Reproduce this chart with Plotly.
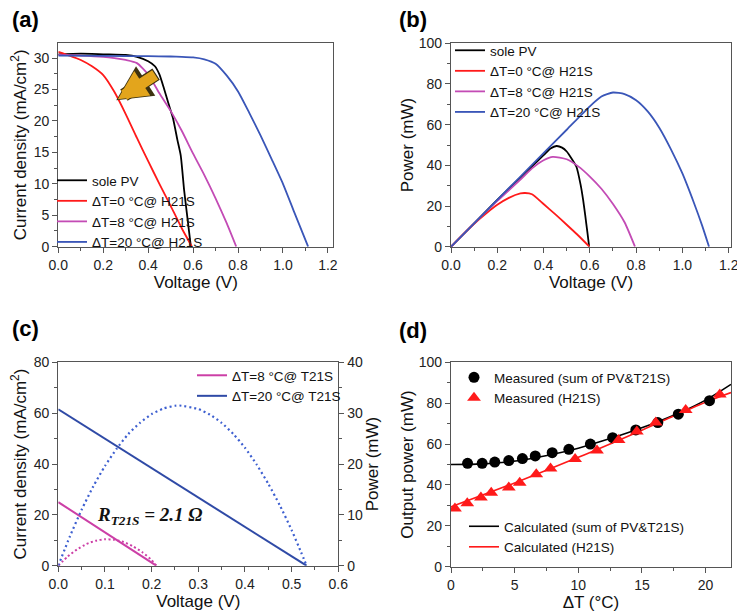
import plotly.graph_objects as go

FONT = "Liberation Sans, Arial, sans-serif"

# ---------------- Panel (a): J-V curves ----------------
a_pv_v = [0, 0.1, 0.2, 0.3, 0.35, 0.4, 0.43, 0.45, 0.47, 0.49, 0.51, 0.53, 0.545, 0.56, 0.575, 0.59]
a_pv_j = [30.6, 30.7, 30.6, 30.5, 30.2, 29.5, 28.7, 27.4, 25.2, 22.8, 20.5, 17.0, 14.5, 9.0, 4.5, 0]
a_d0_v = [0, 0.05, 0.1, 0.15, 0.2, 0.25, 0.3, 0.35, 0.4, 0.45, 0.5, 0.55, 0.595]
a_d0_j = [31.0, 30.4, 29.7, 28.7, 27.3, 24.6, 21.1, 17.3, 13.6, 10.0, 6.5, 2.9, 0]
a_d8_v = [0, 0.1, 0.2, 0.25, 0.3, 0.35, 0.4, 0.45, 0.5, 0.55, 0.6, 0.65, 0.7, 0.75, 0.792]
a_d8_j = [30.5, 30.4, 30.2, 30.0, 29.7, 29.2, 27.4, 24.4, 21.6, 18.4, 14.8, 11.4, 7.7, 3.7, 0]
a_d20_v = [0, 0.2, 0.4, 0.5, 0.55, 0.6, 0.65, 0.7, 0.75, 0.8, 0.85, 0.9, 0.95, 1.0, 1.05, 1.112]
a_d20_j = [30.4, 30.35, 30.3, 30.25, 30.2, 30.1, 29.8, 29.1, 27.2, 24.7, 21.3, 17.7, 13.9, 10.0, 5.5, 0]

# ---------------- Panel (b): P-V curves ----------------
b_pv_v = [0, 0.1, 0.2, 0.3, 0.35, 0.4, 0.43, 0.456, 0.48, 0.5, 0.52, 0.542, 0.56, 0.571, 0.58, 0.59, 0.597]
b_pv_p = [0, 11.5, 23.0, 34.0, 39.5, 45.0, 48.3, 49.5, 48.7, 46.8, 43.5, 39.3, 30.5, 23.0, 15.5, 6.5, 0]
b_d0_v = [0, 0.05, 0.1, 0.15, 0.2, 0.25, 0.3, 0.32, 0.35, 0.4, 0.45, 0.5, 0.55, 0.598]
b_d0_p = [0, 5.8, 11.3, 16.2, 20.6, 24.0, 26.2, 26.4, 25.8, 21.0, 16.0, 10.8, 5.5, 0]
b_d8_v = [0, 0.1, 0.2, 0.3, 0.35, 0.4, 0.44, 0.5, 0.55, 0.6, 0.65, 0.7, 0.75, 0.795]
b_d8_p = [0, 11.5, 22.5, 33.0, 38.5, 42.5, 44.2, 43.0, 39.5, 34.5, 28.5, 21.0, 12.0, 0]
b_d20_v = [0, 0.1, 0.2, 0.3, 0.4, 0.5, 0.6, 0.65, 0.7, 0.75, 0.8, 0.85, 0.9, 0.95, 1.0, 1.05, 1.085, 1.115]
b_d20_p = [0, 11.5, 23.0, 34.5, 46.0, 57.5, 69.0, 73.8, 75.8, 75.0, 72.0, 66.5, 58.5, 48.0, 36.0, 21.5, 10.5, 0]

# ---------------- Panel (c): T21S ----------------
c_d8_v = [0, 0.21]
c_d8_j = [25, 0]
c_d20_v = [0, 0.532]
c_d20_j = [61.5, 0]
c_d8_pv = [0, 0.02, 0.04, 0.06, 0.08, 0.1, 0.12, 0.14, 0.16, 0.18, 0.2, 0.21]
c_d8_pp = [0, 1.8, 3.2, 4.25, 4.9, 5.2, 5.1, 4.65, 3.8, 2.65, 1.1, 0]
c_d20_pv = [0, 0.025, 0.05, 0.075, 0.1, 0.125, 0.15, 0.175, 0.2, 0.225, 0.25, 0.26,
            0.3, 0.325, 0.35, 0.375, 0.4, 0.425, 0.45, 0.475, 0.5, 0.52, 0.532]
c_d20_pp = [0, 5.8, 11.0, 15.6, 19.6, 23.0, 25.9, 28.1, 29.8, 30.9, 31.45, 31.5,
            30.8, 29.7, 28.1, 25.9, 23.2, 19.9, 16.1, 11.8, 7.0, 2.7, 0]

# ---------------- Panel (d): output power vs dT ----------------
d_sum_dt = [1.3, 2.45, 3.44, 4.54, 5.61, 6.62, 7.95, 9.26, 10.95, 12.7, 14.52, 16.25, 17.86, 20.31]
d_sum_p = [50.6, 50.6, 51.2, 51.9, 52.9, 54.2, 55.8, 57.4, 60.0, 63.1, 66.9, 70.5, 74.6, 81.2]
d_h_dt = [0.31, 1.28, 2.35, 3.16, 4.54, 5.4, 6.7, 7.82, 9.75, 11.47, 13.17, 14.6, 16.09, 18.44, 21.12]
d_h_p = [28.5, 31.0, 33.8, 36.2, 38.7, 41.1, 45.2, 48.1, 52.7, 56.8, 62.0, 66.1, 70.6, 76.7, 84.3]
d_calc_dt = [0, 2, 4, 6, 8, 10, 12, 14, 16, 18, 20, 22]
d_calc_sum = [50.0, 50.2, 51.0, 52.6, 55.0, 58.0, 61.7, 65.8, 70.3, 75.4, 81.5, 89.2]
d_calc_h_dt = [0, 5, 10, 15, 20, 22]
d_calc_h = [29.3, 41.0, 53.5, 66.8, 80.5, 85.2]

BLACK = "#000000"
RED = "#FF1A1A"
MAG = "#C34BB5"
BLUE = "#3A56B8"
MAG_C = "#CC3FA6"
BLUE_C = "#2F4AA6"

names = ["sole PV", "ΔT=0 °C@ H21S", "ΔT=8 °C@ H21S", "ΔT=20 °C@ H21S"]

fig = go.Figure()

def line(x, y, color, name, xa, ya, legend, width=1.8, dash=None, show=True):
    fig.add_trace(go.Scatter(x=x, y=y, mode="lines", name=name,
                             line=dict(color=color, width=width, dash=dash, shape="spline", smoothing=0.6),
                             xaxis=xa, yaxis=ya, legend=legend, showlegend=show))

# (a)
for (vx, jy, col, nm) in [(a_pv_v, a_pv_j, BLACK, names[0]), (a_d0_v, a_d0_j, RED, names[1]),
                          (a_d8_v, a_d8_j, MAG, names[2]), (a_d20_v, a_d20_j, BLUE, names[3])]:
    line(vx, jy, col, nm, "x", "y", "legend")
# (b)
for (vx, py_, col, nm) in [(b_pv_v, b_pv_p, BLACK, names[0]), (b_d0_v, b_d0_p, RED, names[1]),
                           (b_d8_v, b_d8_p, MAG, names[2]), (b_d20_v, b_d20_p, BLUE, names[3])]:
    line(vx, py_, col, nm, "x2", "y2", "legend2")
# (c)
line(c_d8_v, c_d8_j, MAG_C, "ΔT=8 °C@ T21S", "x3", "y3", "legend3", width=2)
line(c_d20_v, c_d20_j, BLUE_C, "ΔT=20 °C@ T21S", "x3", "y3", "legend3", width=2)
line(c_d8_pv, c_d8_pp, MAG_C, "p8", "x3", "y5", "legend3", width=2, dash="2px,2.5px", show=False)
line(c_d20_pv, c_d20_pp, "#3D5FD0", "p20", "x3", "y5", "legend3", width=2.2, dash="2px,3px", show=False)
# (d)
fig.add_trace(go.Scatter(x=d_calc_dt, y=d_calc_sum, mode="lines", name="Calculated (sum of PV&T21S)",
                         line=dict(color=BLACK, width=1.6, shape="spline"), xaxis="x4", yaxis="y4", legend="legend5"))
fig.add_trace(go.Scatter(x=d_calc_h_dt, y=d_calc_h, mode="lines", name="Calculated (H21S)",
                         line=dict(color=RED, width=1.6, shape="spline"), xaxis="x4", yaxis="y4", legend="legend5"))
fig.add_trace(go.Scatter(x=d_sum_dt, y=d_sum_p, mode="markers", name="Measured (sum of PV&T21S)",
                         marker=dict(color=BLACK, size=11, symbol="circle"), xaxis="x4", yaxis="y4", legend="legend4"))
fig.add_trace(go.Scatter(x=d_h_dt, y=d_h_p, mode="markers", name="Measured (H21S)",
                         marker=dict(color=RED, size=12, symbol="triangle-up"), xaxis="x4", yaxis="y4", legend="legend4"))

# The page body adds an 8 px margin; the figure is sized to fit the window exactly.
OFF = 8
W, H = 745 - OFF, 615 - OFF
def px(x): return (x - OFF) / W
def py(y): return 1 - (y - OFF) / H

AX = "#555555"
TICKFONT = dict(family=FONT, size=14, color="#222222")
TITLEFONT = dict(family=FONT, size=17, color="#111111")

def xax(domain, rng, dtick, minor, title, anchor, standoff=3):
    return dict(domain=domain, range=rng, dtick=dtick, tick0=0, anchor=anchor, automargin=False,
                showline=True, linecolor=AX, linewidth=1.2, mirror=True,
                ticks="outside", ticklen=5, tickcolor=AX, tickwidth=1.2,
                minor=dict(dtick=minor, ticks="outside", ticklen=3, tickcolor=AX, tickwidth=1),
                showgrid=False, zeroline=False, tickfont=TICKFONT,
                title=dict(text=title, font=TITLEFONT, standoff=standoff))

A_X = [px(58.3), px(333.3)]
A_Y = [py(246.7), py(43)]
B_X = [px(451), px(731)]
B_Y = [py(246.7), py(43.3)]
C_X = [px(58.3), px(338.3)]
C_Y = [py(565.7), py(362.3)]
D_X = [px(451), px(731)]
D_Y = [py(566.7), py(362.3)]

layout = dict(
    template="none",
    width=W, height=H, margin=dict(l=0, r=0, t=0, b=0, autoexpand=False),
    paper_bgcolor="white", plot_bgcolor="white",
    font=dict(family=FONT, color="#111111"),
    xaxis=xax(A_X, [0, 1.224], 0.2, 0.1, "Voltage (V)", "y"),
    yaxis=xax(A_Y, [0, 32.4], 5, 2.5, "Current density (mA/cm<sup>2</sup>)", "x", standoff=4),
    xaxis2=xax(B_X, [0, 1.21], 0.2, 0.1, "Voltage (V)", "y2"),
    yaxis2=xax(B_Y, [0, 100], 20, 10, "Power (mW)", "x2", standoff=0),
    xaxis3=xax(C_X, [0, 0.6], 0.1, 0.05, "Voltage (V)", "y3"),
    yaxis3=xax(C_Y, [0, 80], 20, 10, "Current density (mA/cm<sup>2</sup>)", "x3", standoff=6),
    xaxis4=xax(D_X, [0, 22], 5, 2.5, "ΔT (°C)", "y4"),
    yaxis4=xax(D_Y, [0, 100], 20, 10, "Output power (mW)", "x4", standoff=0),
)
layout["xaxis"]["tickformat"] = ".1f"
layout["xaxis2"]["tickformat"] = ".1f"
layout["xaxis3"]["tickformat"] = ".1f"
y5 = xax(C_Y, [0, 40], 10, 5, "Power (mW)", "x3", standoff=0)
y5.update(overlaying="y3", side="right", mirror=False)
layout["yaxis5"] = y5
layout["yaxis3"]["mirror"] = False

LEGFONT = dict(family=FONT, size=13.5, color="#111111")
def leg(x, y):
    return dict(x=px(x), y=py(y), xanchor="left", yanchor="top", bgcolor="rgba(0,0,0,0)",
                font=LEGFONT, tracegroupgap=0, itemwidth=30, borderwidth=0)

layout["legend"] = leg(52, 165)
layout["legend2"] = leg(450, 35)
layout["legend3"] = leg(192, 360)
layout["legend4"] = leg(454, 362)
layout["legend5"] = leg(464, 511)

fig.update_layout(**layout)

# panel labels
for txt, x, y in [("(a)", 10, 19), ("(b)", 397, 19), ("(c)", 10, 329), ("(d)", 397, 330)]:
    fig.add_annotation(text="<b>%s</b>" % txt, x=px(x), y=py(y), xref="paper", yref="paper",
                       xanchor="left", yanchor="middle", showarrow=False,
                       font=dict(family=FONT, size=22, color="#000000"))

# R_T21S label
fig.add_annotation(text="<b><i>R<sub>T21S</sub> = 2.1 Ω</i></b>", x=0.197, y=19.5, xref="x3", yref="y3",
                   xanchor="center", yanchor="middle", showarrow=False,
                   font=dict(family="Liberation Serif, Times New Roman, serif", size=19, color="#111111"))

# arrow in (a): dark outline underneath, gold arrow on top
fig.add_annotation(x=0.258, y=23.3, ax=0.442, ay=27.6, xref="x", yref="y", axref="x", ayref="y",
                   text="", showarrow=True, arrowhead=2, arrowsize=0.52, arrowwidth=13.5,
                   arrowcolor="#3d3210")
fig.add_annotation(x=0.265, y=23.45, ax=0.438, ay=27.5, xref="x", yref="y", axref="x", ayref="y",
                   text="", showarrow=True, arrowhead=2, arrowsize=0.53, arrowwidth=11,
                   arrowcolor="#E3A51C")

fig.write_html("out.html")
